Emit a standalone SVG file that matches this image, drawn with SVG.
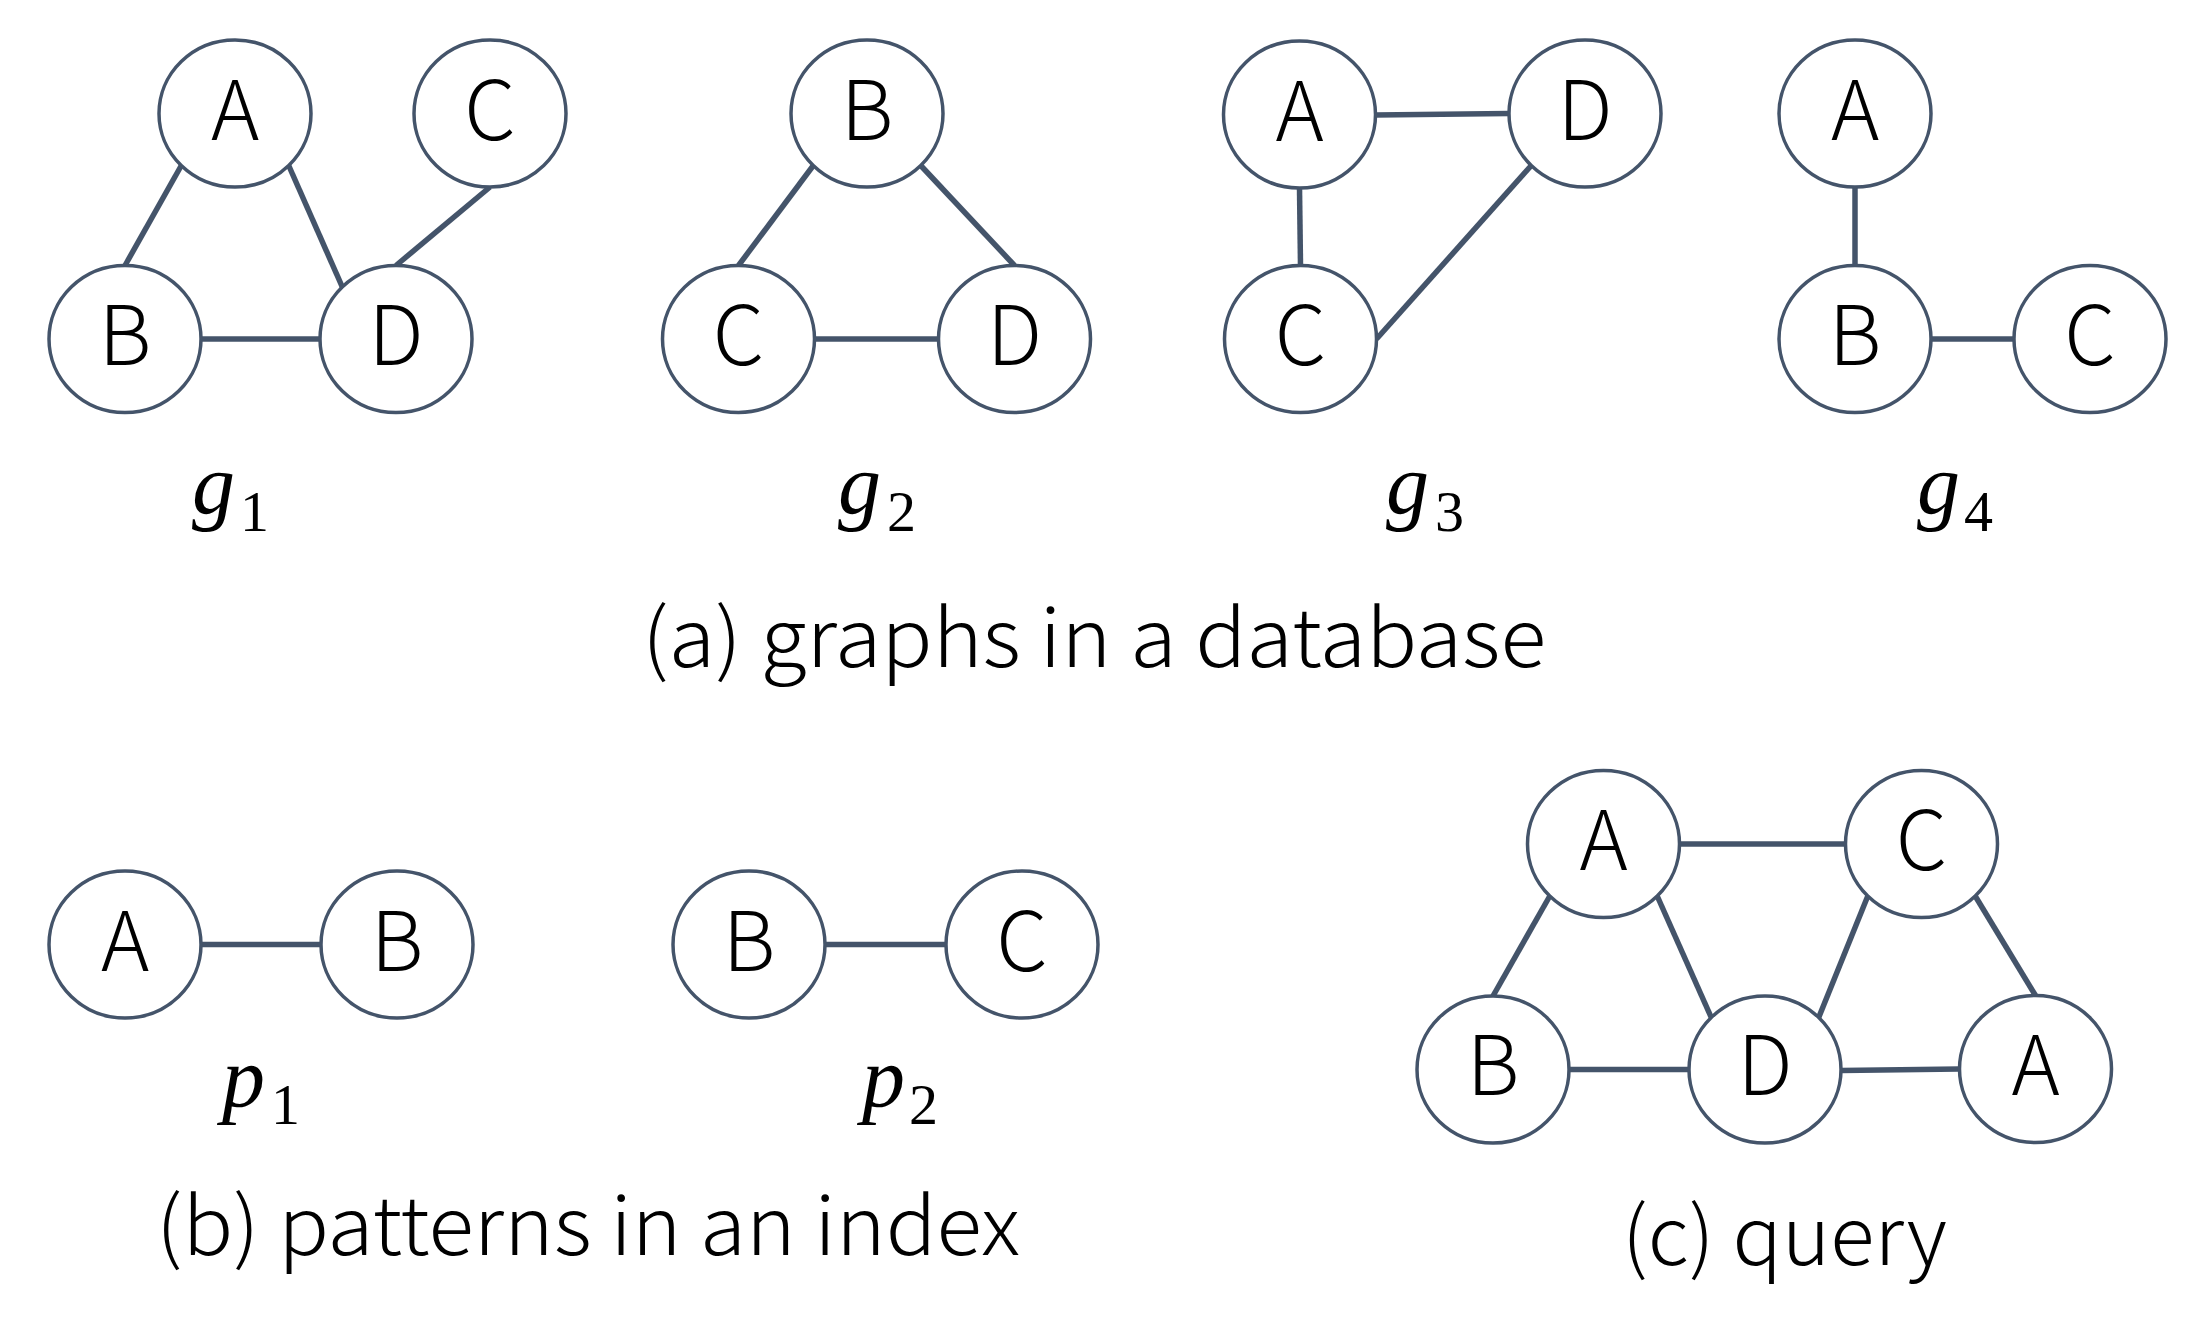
<svg xmlns="http://www.w3.org/2000/svg" width="2212" height="1328" viewBox="0 0 2212 1328">
<style>
.nd ellipse{fill:#fff;stroke:#44546A;stroke-width:3.5}
.nd text{font-family:"Noto Sans CJK JP","Noto Sans",sans-serif;font-weight:300;font-size:82px;fill:#000;text-anchor:middle}
#edges line{stroke:#44546A;stroke-width:5.5;stroke-linecap:butt}
.cap{font-family:"Noto Sans CJK JP","Noto Sans",sans-serif;font-weight:300;font-size:80px;fill:#000}
.mv{font-family:"Liberation Serif",serif;font-style:italic;font-size:86px;fill:#000}
.ms{font-family:"Liberation Serif",serif;font-size:58px;fill:#000}
</style>
<rect width="2212" height="1328" fill="#fff"/>
<g id="edges">
<line x1="181.3" y1="165.5" x2="125" y2="265.5"/>
<line x1="288.7" y1="165.5" x2="342.3" y2="287"/>
<line x1="490" y1="187" x2="396" y2="265.5"/>
<line x1="201" y1="339" x2="320" y2="339"/>
<line x1="813.3" y1="165.5" x2="738.5" y2="265.5"/>
<line x1="920.7" y1="165.5" x2="1014.5" y2="265.5"/>
<line x1="814.5" y1="339" x2="938.5" y2="339"/>
<line x1="1375.5" y1="115" x2="1509" y2="113.5"/>
<line x1="1299.5" y1="188" x2="1300.5" y2="265.5"/>
<line x1="1376.5" y1="339" x2="1531.3" y2="165.5"/>
<line x1="1855" y1="187" x2="1855" y2="265.5"/>
<line x1="1931" y1="339" x2="2014" y2="339"/>
<line x1="201" y1="944.5" x2="321" y2="944.5"/>
<line x1="825" y1="944.5" x2="946" y2="944.5"/>
<line x1="1679.5" y1="844" x2="1845.5" y2="844"/>
<line x1="1549.8" y1="896" x2="1493" y2="996"/>
<line x1="1657.2" y1="896" x2="1711.3" y2="1017.5"/>
<line x1="1867.8" y1="896" x2="1818.7" y2="1017.5"/>
<line x1="1975.2" y1="896" x2="2035.5" y2="995.5"/>
<line x1="1569" y1="1069.5" x2="1689" y2="1069.5"/>
<line x1="1841" y1="1070.5" x2="1959.5" y2="1069"/>
</g>
<g id="g1-A" class="nd"><ellipse cx="235" cy="113.5" rx="76" ry="73.5"/><text x="235" y="139.5">A</text></g>
<g id="g1-C" class="nd"><ellipse cx="490" cy="113.5" rx="76" ry="73.5"/><text x="490" y="139.5">C</text></g>
<g id="g1-B" class="nd"><ellipse cx="125" cy="339" rx="76" ry="73.5"/><text x="125" y="365">B</text></g>
<g id="g1-D" class="nd"><ellipse cx="396" cy="339" rx="76" ry="73.5"/><text x="396" y="365">D</text></g>
<g id="g2-B" class="nd"><ellipse cx="867" cy="113.5" rx="76" ry="73.5"/><text x="867" y="139.5">B</text></g>
<g id="g2-C" class="nd"><ellipse cx="738.5" cy="339" rx="76" ry="73.5"/><text x="738.5" y="365">C</text></g>
<g id="g2-D" class="nd"><ellipse cx="1014.5" cy="339" rx="76" ry="73.5"/><text x="1014.5" y="365">D</text></g>
<g id="g3-A" class="nd"><ellipse cx="1299.5" cy="114.5" rx="76" ry="73.5"/><text x="1299.5" y="140.5">A</text></g>
<g id="g3-D" class="nd"><ellipse cx="1585" cy="113.5" rx="76" ry="73.5"/><text x="1585" y="139.5">D</text></g>
<g id="g3-C" class="nd"><ellipse cx="1300.5" cy="339" rx="76" ry="73.5"/><text x="1300.5" y="365">C</text></g>
<g id="g4-A" class="nd"><ellipse cx="1855" cy="113.5" rx="76" ry="73.5"/><text x="1855" y="139.5">A</text></g>
<g id="g4-B" class="nd"><ellipse cx="1855" cy="339" rx="76" ry="73.5"/><text x="1855" y="365">B</text></g>
<g id="g4-C" class="nd"><ellipse cx="2090" cy="339" rx="76" ry="73.5"/><text x="2090" y="365">C</text></g>
<g id="p1-A" class="nd"><ellipse cx="125" cy="944.5" rx="76" ry="73.5"/><text x="125" y="970.5">A</text></g>
<g id="p1-B" class="nd"><ellipse cx="397" cy="944.5" rx="76" ry="73.5"/><text x="397" y="970.5">B</text></g>
<g id="p2-B" class="nd"><ellipse cx="749" cy="944.5" rx="76" ry="73.5"/><text x="749" y="970.5">B</text></g>
<g id="p2-C" class="nd"><ellipse cx="1022" cy="944.5" rx="76" ry="73.5"/><text x="1022" y="970.5">C</text></g>
<g id="q-A1" class="nd"><ellipse cx="1603.5" cy="844" rx="76" ry="73.5"/><text x="1603.5" y="869.5">A</text></g>
<g id="q-C" class="nd"><ellipse cx="1921.5" cy="844" rx="76" ry="73.5"/><text x="1921.5" y="869.5">C</text></g>
<g id="q-B" class="nd"><ellipse cx="1493" cy="1069.5" rx="76" ry="73.5"/><text x="1493" y="1095">B</text></g>
<g id="q-D" class="nd"><ellipse cx="1765" cy="1069.5" rx="76" ry="73.5"/><text x="1765" y="1095">D</text></g>
<g id="q-A2" class="nd"><ellipse cx="2035.5" cy="1069" rx="76" ry="73.5"/><text x="2035.5" y="1095">A</text></g>
<g id="labels">
<text class="mv" x="192" y="513">g</text><text class="ms" x="240" y="531">1</text>
<text class="mv" x="838" y="513">g</text><text class="ms" x="887" y="531">2</text>
<text class="mv" x="1386" y="513">g</text><text class="ms" x="1435" y="531">3</text>
<text class="mv" x="1917" y="513">g</text><text class="ms" x="1964" y="531">4</text>
<text class="mv" x="222" y="1106">p</text><text class="ms" x="271" y="1124">1</text>
<text class="mv" x="862" y="1106">p</text><text class="ms" x="909" y="1124">2</text>
<text class="cap" x="642" y="667" textLength="904" lengthAdjust="spacingAndGlyphs">(a) graphs in a database</text>
<text class="cap" x="156" y="1255" textLength="864" lengthAdjust="spacingAndGlyphs">(b) patterns in an index</text>
<text class="cap" x="1622" y="1265" textLength="325" lengthAdjust="spacingAndGlyphs">(c) query</text>
</g>
</svg>
